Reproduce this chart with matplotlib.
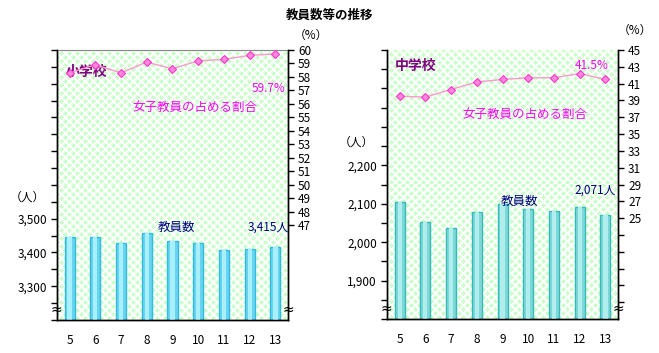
import numpy as np
import matplotlib
matplotlib.use("Agg")
import matplotlib.pyplot as plt
from matplotlib.ticker import FixedLocator, FuncFormatter

plt.rcParams['font.family'] = ['Noto Sans CJK JP', 'DejaVu Sans']

# data
years = ['5', '6', '7', '8', '9', '10', '11', '12', '13']
elem_teachers = [3446, 3446, 3428, 3458, 3434, 3428, 3407, 3410, 3415]
elem_female_pct = [58.3, 58.9, 58.3, 59.1, 58.6, 59.2, 59.3, 59.6, 59.7]
jhs_teachers = [2105, 2053, 2037, 2079, 2100, 2087, 2082, 2091, 2071]
jhs_female_pct = [39.5, 39.4, 40.3, 41.2, 41.5, 41.7, 41.7, 42.2, 41.5]


def diamond_texture(w, h, period=8, r=2):
    # light green diamond pattern used as plot background
    yy, xx = np.mgrid[0:h, 0:w]
    dx = (xx % period) - period // 2
    dy = (yy % period) - period // 2
    d1 = np.abs(dx) + np.abs(dy)
    dx2 = ((xx + period // 2) % period) - period // 2
    dy2 = ((yy + period // 2) % period) - period // 2
    d2 = np.abs(dx2) + np.abs(dy2)
    mask = (d1 <= r) | (d2 <= r)
    img = np.ones((h, w, 3))
    img[mask] = np.array([0xCC, 0xFF, 0xCC]) / 255.0
    return img


def draw_panel(pos, counts, pct, cnt_lim, cnt_labels, pct_lim, pct_ticks, pct_labels,
               school, face, edge, light, txt):
    ax = fig.add_axes(pos)
    ax2 = ax.twinx()
    x = np.arange(len(years))

    ax.imshow(diamond_texture(232, 270), extent=[0, 1, 0, 1], transform=ax.transAxes,
              aspect='auto', zorder=0, interpolation='nearest')

    base = cnt_lim[0]
    h = np.array(counts) - base
    ax.bar(x, h, bottom=base, width=0.39, color=face, edgecolor=edge, linewidth=1.0, zorder=2)
    ax.bar(x, h, bottom=base, width=0.16, color=light, linewidth=0, zorder=3)

    ax2.plot(x, pct, color='#FF99CC', linewidth=1.0, marker='D', markersize=4.5,
             markerfacecolor='#FF88DD', markeredgecolor='#FF33CC', markeredgewidth=0.8, zorder=4)

    ax.set_xlim(-0.5, len(years) - 0.5)
    ax.set_ylim(*cnt_lim)
    ax2.set_ylim(*pct_lim)
    ax.set_xticks(x)
    ax.set_xticklabels(years)
    ax.tick_params(axis='x', length=0, pad=10, labelsize=8.5)

    cnt_ticks = np.arange(cnt_lim[0], cnt_lim[1] + 1, 50)
    ax.yaxis.set_major_locator(FixedLocator(cnt_ticks))
    ax.yaxis.set_major_formatter(FuncFormatter(
        lambda v, p: f"{int(v):,}" if int(v) in cnt_labels else ""))
    ax.tick_params(axis='y', length=4, width=1, labelsize=8.5, pad=3)

    ax2.yaxis.set_major_locator(FixedLocator(pct_ticks))
    ax2.yaxis.set_major_formatter(FuncFormatter(
        lambda v, p: f"{int(round(v))}" if int(round(v)) in pct_labels else ""))
    ax2.tick_params(axis='y', length=4, width=1, labelsize=8.5, pad=3)

    for a in (ax, ax2):
        a.spines['top'].set_visible(False)
        a.spines['left'].set_linewidth(1)
        a.spines['right'].set_linewidth(1)
        a.spines['bottom'].set_linewidth(1)

    # break marks
    for xs in (0, 1):
        ax2.text(xs, 0.037, '≈', transform=ax2.transAxes, ha='center', va='center',
                 fontsize=10, family=['DejaVu Sans'])

    ax2.text(txt['school'][0], txt['school'][1], school, transform=ax2.transAxes,
             ha='center', va='center', fontsize=10, fontweight='bold', color='#800080')
    ax2.text(txt['ratio'][0], txt['ratio'][1], '女子教員の占める割合', transform=ax2.transAxes,
             ha='center', va='center', fontsize=9, color='#FF00FF')
    ax2.text(txt['pct'][0], txt['pct'][1], f"{pct[-1]}%", transform=ax2.transAxes,
             ha='right', va='center', fontsize=8.5, color='#FF00FF')
    ax2.text(txt['cnt'][0], txt['cnt'][1], '教員数', transform=ax2.transAxes,
             ha='center', va='center', fontsize=9, color='#000080')
    ax2.text(txt['val'][0], txt['val'][1], f"{counts[-1]:,}人", transform=ax2.transAxes,
             ha='right', va='center', fontsize=8.5, color='#000080')
    return ax, ax2


fig = plt.figure(figsize=(6.59, 3.53), dpi=100)

axL, axL2 = draw_panel(
    [0.086, 0.0935, 0.3515, 0.765], elem_teachers, elem_female_pct,
    (3200, 4000), [3300, 3400, 3500],
    (40, 60), np.arange(47, 61, 1), list(range(47, 61)),
    '小学校', '#66D4F2', '#33BBDD', '#A8F0FF',
    {'school': (0.131, 0.919), 'ratio': (0.597, 0.785), 'pct': (0.986, 0.859),
     'cnt': (0.519, 0.344), 'val': (1.003, 0.344)})
axL.spines['top'].set_visible(True)
axL.spines['top'].set_color('#888888')

axR, axR2 = draw_panel(
    [0.5868, 0.0963, 0.3515, 0.762], jhs_teachers, jhs_female_pct,
    (1800, 2500), [1900, 2000, 2100, 2200],
    (13, 45), np.arange(15, 46, 2), list(range(25, 46, 2)),
    '中学校', '#7FD8D8', '#33BBBB', '#B0EEEE',
    {'school': (0.124, 0.941), 'ratio': (0.597, 0.755), 'pct': (0.960, 0.941),
     'cnt': (0.573, 0.436), 'val': (0.991, 0.480)})

fig.text(0.5, 0.957, '教員数等の推移', ha='center', va='center', fontsize=9, fontweight='bold')
fig.text(0.472, 0.901, '（%）', ha='center', va='center', fontsize=8.5)
fig.text(0.963, 0.915, '（%）', ha='center', va='center', fontsize=8.5)
fig.text(0.042, 0.443, '（人）', ha='center', va='center', fontsize=8.5)
fig.text(0.541, 0.597, '（人）', ha='center', va='center', fontsize=8.5)

fig.savefig('out.png', dpi=100)
